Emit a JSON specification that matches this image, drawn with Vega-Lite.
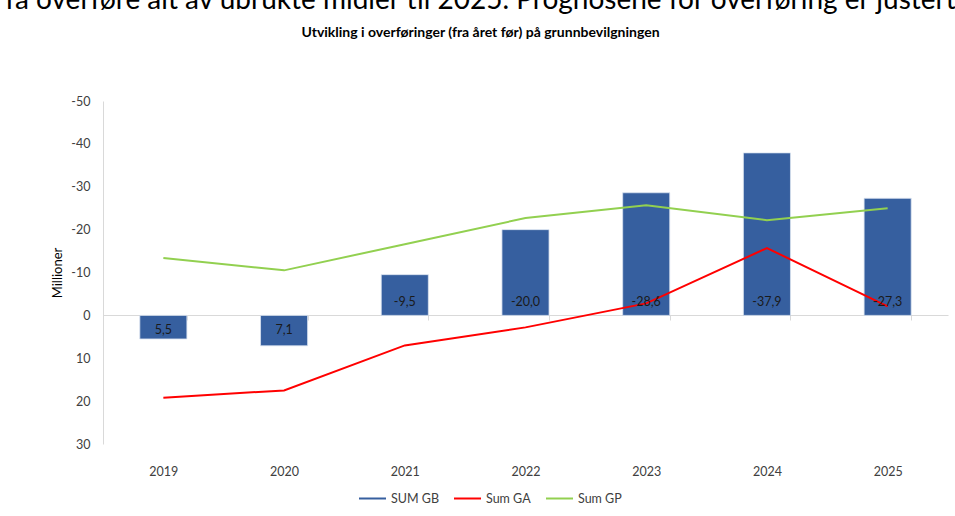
{
  "$schema": "https://vega.github.io/schema/vega-lite/v6.json",
  "autosize": {"type": "none"},
  "width": 845,
  "height": 343,
  "padding": {"left": 103, "top": 101, "right": 7, "bottom": 72},
  "background": "white",
  "config": {
    "font": "Lato",
    "view": {"stroke": null},
    "locale": {"number": {"decimal": ",", "thousands": " ", "grouping": [3], "currency": ["", " kr"], "minus": "-"}}
  },
  "title": {
    "text": "få overføre alt av ubrukte midler til 2025. Prognosene for overføring er justert",
    "subtitle": "Utvikling i overføringer (fra året før) på grunnbevilgningen",
    "anchor": "middle",
    "dx": -45,
    "offset": 55,
    "font": "Lato",
    "fontSize": 28,
    "fontWeight": "normal",
    "color": "black",
    "subtitleFont": "Lato",
    "subtitleFontSize": 14,
    "subtitleFontWeight": "bold",
    "subtitleColor": "black",
    "subtitlePadding": 11
  },
  "data": {
    "values": [
      {"year": "2019", "series": "SUM GB", "value": 5.5},
      {"year": "2020", "series": "SUM GB", "value": 7.1},
      {"year": "2021", "series": "SUM GB", "value": -9.5},
      {"year": "2022", "series": "SUM GB", "value": -20.0},
      {"year": "2023", "series": "SUM GB", "value": -28.6},
      {"year": "2024", "series": "SUM GB", "value": -37.9},
      {"year": "2025", "series": "SUM GB", "value": -27.3},
      {"year": "2019", "series": "Sum GA", "value": 19.2},
      {"year": "2020", "series": "Sum GA", "value": 17.5},
      {"year": "2021", "series": "Sum GA", "value": 7.0},
      {"year": "2022", "series": "Sum GA", "value": 2.8},
      {"year": "2023", "series": "Sum GA", "value": -2.8},
      {"year": "2024", "series": "Sum GA", "value": -15.7},
      {"year": "2025", "series": "Sum GA", "value": -2.1},
      {"year": "2019", "series": "Sum GP", "value": -13.4},
      {"year": "2020", "series": "Sum GP", "value": -10.5},
      {"year": "2021", "series": "Sum GP", "value": -16.6},
      {"year": "2022", "series": "Sum GP", "value": -22.7},
      {"year": "2023", "series": "Sum GP", "value": -25.7},
      {"year": "2024", "series": "Sum GP", "value": -22.2},
      {"year": "2025", "series": "Sum GP", "value": -25.0}
    ]
  },
  "encoding": {
    "x": {
      "field": "year",
      "type": "nominal",
      "sort": null,
      "scale": {"paddingInner": 0.61, "paddingOuter": 0.305},
      "axis": {
        "title": null,
        "orient": "bottom",
        "offset": -129,
        "domainColor": "#d9d9d9",
        "domainWidth": 1,
        "tickColor": "#d9d9d9",
        "tickSize": 5,
        "tickBand": "extent",
        "labelAngle": 0,
        "labelPadding": 145,
        "labelFont": "Lato",
        "labelFontSize": 12.5,
        "labelColor": "#404040"
      }
    }
  },
  "layer": [
    {
      "transform": [{"filter": "datum.series === 'SUM GB'"}],
      "mark": {"type": "bar", "stroke": "#dbe3f0", "strokeWidth": 0.8},
      "encoding": {
        "y": {
          "field": "value",
          "type": "quantitative",
          "scale": {"domain": [-50, 30], "reverse": true, "nice": false, "zero": true},
          "axis": {
            "title": "Millioner",
            "values": [-50, -40, -30, -20, -10, 0, 10, 20, 30],
            "grid": false,
            "ticks": false,
            "domainColor": "#d9d9d9",
            "labelPadding": 13,
            "labelFont": "Lato",
            "labelFontSize": 12.5,
            "labelColor": "#404040",
            "titleFont": "Lato",
            "titleFontSize": 13,
            "titleFontWeight": "normal",
            "titleColor": "black",
            "titlePadding": 6
          }
        },
        "y2": {"datum": 0},
        "color": {
          "field": "series",
          "type": "nominal",
          "scale": {"domain": ["SUM GB", "Sum GA", "Sum GP"], "range": ["#365F9F", "#FF0000", "#92D050"]},
          "legend": {
            "title": null,
            "orient": "none",
            "direction": "horizontal",
            "legendX": 255,
            "legendY": 383,
            "symbolType": "stroke",
            "symbolSize": 729,
            "symbolStrokeWidth": 2,
            "columnPadding": 11,
            "labelOffset": 4,
            "labelFont": "Lato",
            "labelFontSize": 12.5,
            "labelColor": "#404040",
            "encode": {
              "symbols": {
                "update": {
                  "stroke": {"scale": "color", "field": "value"},
                  "strokeWidth": [{"test": "datum.value === 'SUM GB'", "value": 7}, {"value": 2}]
                }
              }
            }
          }
        }
      }
    },
    {
      "transform": [{"filter": "datum.series !== 'SUM GB'"}],
      "mark": {"type": "line", "strokeWidth": 2},
      "encoding": {
        "y": {"field": "value", "type": "quantitative"},
        "color": {"field": "series", "type": "nominal"}
      }
    },
    {
      "transform": [{"filter": "datum.series === 'SUM GB' && datum.value < 0"}],
      "mark": {"type": "text", "dy": -13, "fontSize": 12.5, "font": "Lato", "color": "#1a1a1a"},
      "encoding": {
        "y": {"datum": 0},
        "text": {"field": "value", "type": "quantitative", "format": ".1f"}
      }
    },
    {
      "transform": [{"filter": "datum.series === 'SUM GB' && datum.value > 0"}],
      "mark": {"type": "text", "dy": 15, "fontSize": 12.5, "font": "Lato", "color": "#1a1a1a"},
      "encoding": {
        "y": {"datum": 0},
        "text": {"field": "value", "type": "quantitative", "format": ".1f"}
      }
    }
  ]
}
